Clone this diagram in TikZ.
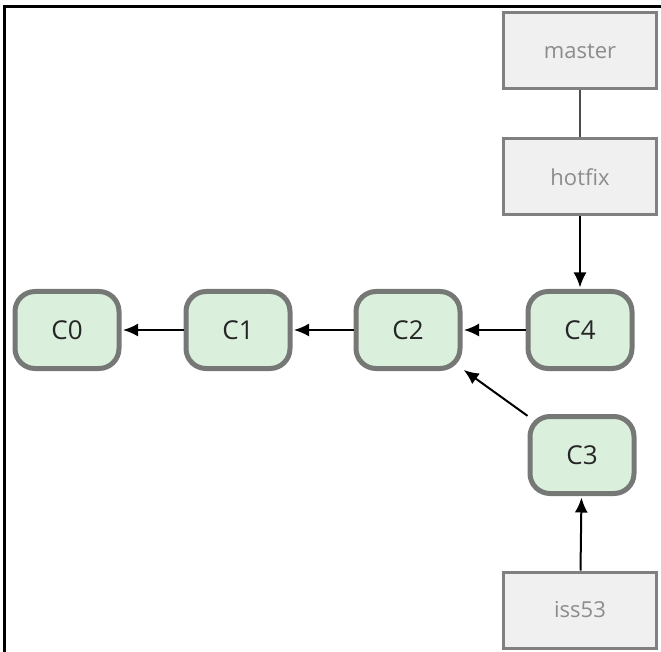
\documentclass[tikz,border=0pt]{standalone}
\usepackage{fontspec}
\setmainfont{Open Sans}
\usetikzlibrary{arrows.meta}
\definecolor{commitfill}{RGB}{218,240,221}
\definecolor{commitline}{RGB}{118,120,118}
\definecolor{branchfill}{RGB}{240,240,240}
\definecolor{branchline}{RGB}{128,128,128}
\definecolor{branchtext}{RGB}{140,140,140}
\tikzset{
    commit/.style={draw=commitline, fill=commitfill, line width=5pt, rounded corners=20pt,
        minimum width=104pt, minimum height=77pt, text=black!85, font=\fontsize{26}{30}\selectfont},
    branch/.style={draw=branchline, fill=branchfill, line width=3pt,
        minimum width=153pt, minimum height=76pt, text=branchtext, font=\fontsize{22}{26}\selectfont},
    link/.style={->, line width=2pt, shorten >=1.5pt}
}
\begin{document}
\begin{tikzpicture}[x=1pt,y=-1pt,>={Latex[length=15pt,width=13pt]}]
        %Frame
            \useasboundingbox (0,0) rectangle (661,652);
            \clip (0,0) rectangle (661,652);
            \draw[line width=3pt] (4,700) -- (4,7) -- (700,7);
        %Commits
            \node[commit] (c0) at (67,330) {C0};
            \node[commit] (c1) at (238,330) {C1};
            \node[commit] (c2) at (408,330) {C2};
            \node[commit] (c4) at (580,330) {C4};
            \node[commit] (c3) at (582,455) {C3};
        %Branches
            \node[branch] (master) at (580,51) {master};
            \node[branch] (hotfix) at (580,177) {hotfix};
            \node[branch] (iss53) at (580,610) {iss53};
        %Parents
            \draw[link] (c1) -- (c0);
            \draw[link] (c2) -- (c1);
            \draw[link] (c4) -- (c2);
            \draw[link] (c3) -- (c2);
        %Refs
            \draw[line width=2pt, black!70] (master) -- (hotfix);
            \draw[link] (hotfix) -- (c4);
            \draw[link] (iss53) -- (c3);
\end{tikzpicture}
\end{document}
